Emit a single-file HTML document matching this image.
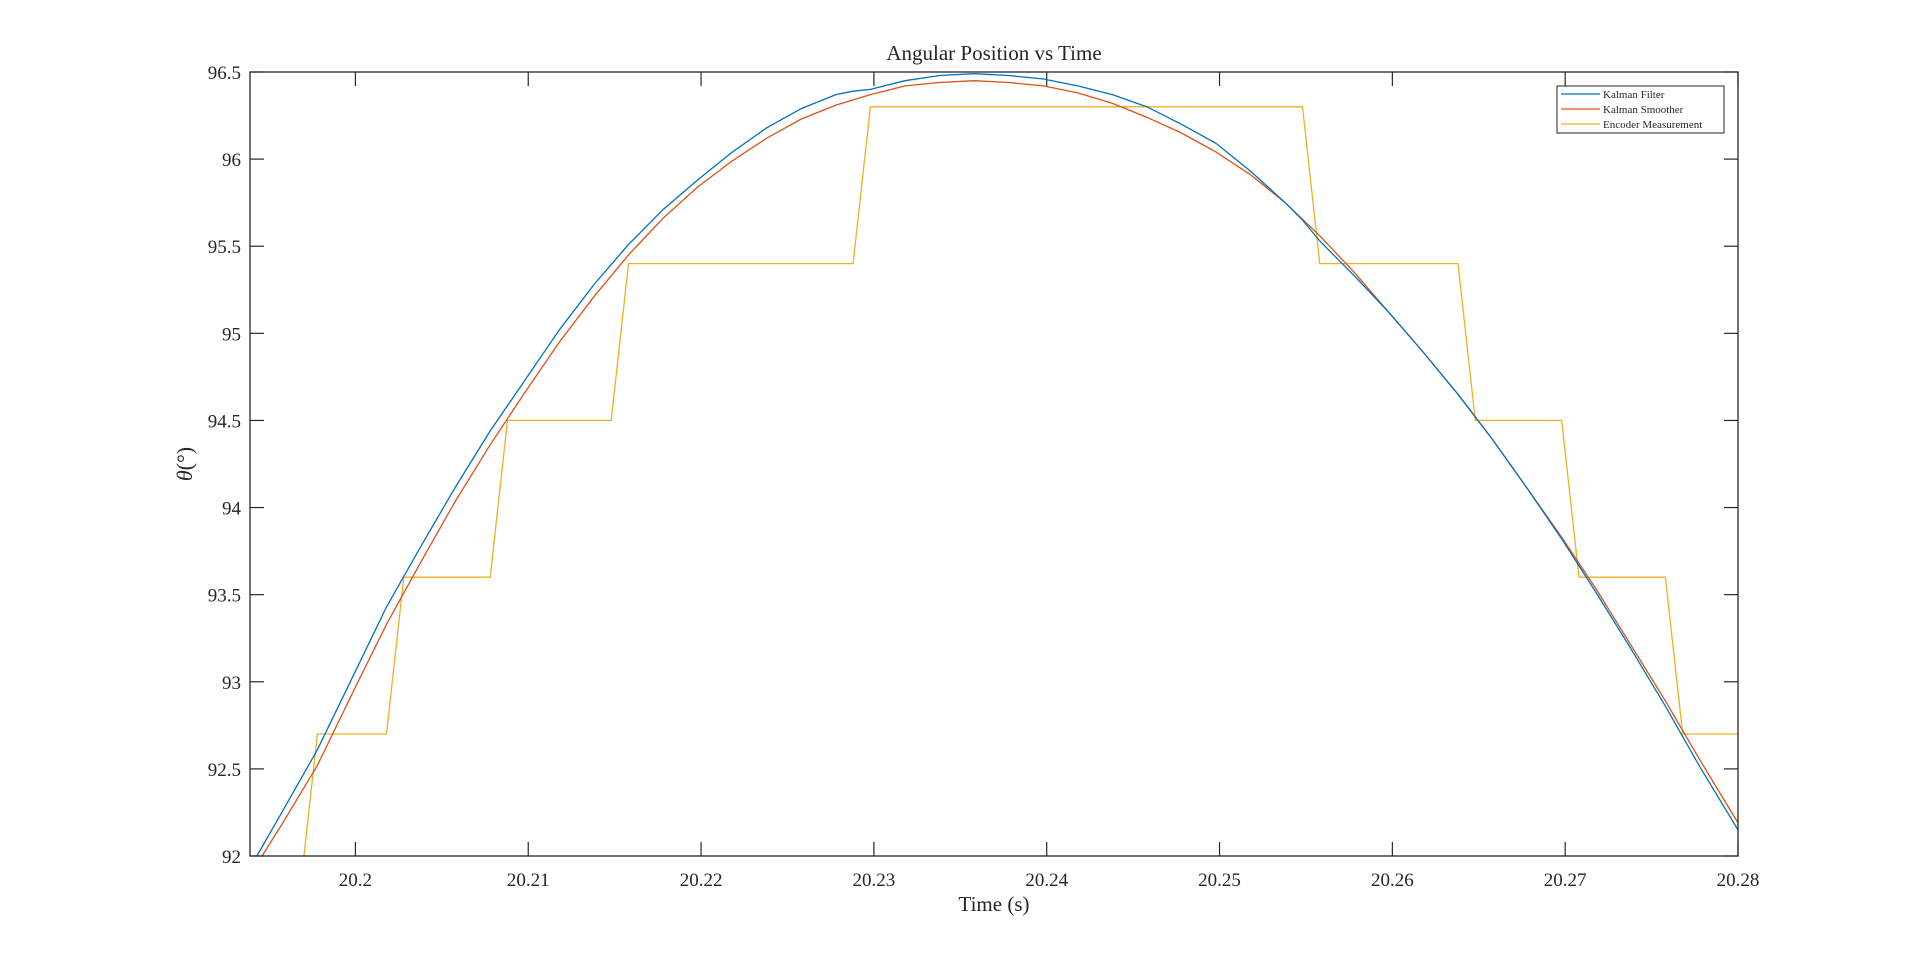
<!DOCTYPE html>
<html><head><meta charset="utf-8"><style>
body{margin:0;background:#fff;width:1920px;height:963px;overflow:hidden}
text{font-family:"Liberation Serif",serif;fill:#262626}
</style></head><body>
<svg id="chart" width="1920" height="963" xmlns="http://www.w3.org/2000/svg">
<rect width="1920" height="963" fill="#fff"/>
<defs><clipPath id="clip"><rect x="250" y="72" width="1488" height="784"/></clipPath></defs>
<g id="ticks"></g>
<g id="series" clip-path="url(#clip)"></g>
<rect x="250" y="72" width="1488" height="784" fill="none" stroke="#262626" stroke-width="1.3"/>
<text x="994" y="60" font-size="21" text-anchor="middle">Angular Position vs Time</text>
<text x="994" y="911" font-size="21" text-anchor="middle">Time (s)</text>
<text transform="translate(192,464) rotate(-90)" font-size="22" text-anchor="middle"><tspan font-style="italic">θ</tspan>(°)</text>
<g>
<rect x="1557" y="86" width="167" height="47" fill="#fff" stroke="#262626" stroke-width="1"/>
<line x1="1561" y1="94" x2="1600" y2="94" stroke="#0072BD" stroke-width="1.2"/>
<text x="1603" y="98" font-size="11">Kalman Filter</text>
<line x1="1561" y1="109" x2="1600" y2="109" stroke="#D95319" stroke-width="1.2"/>
<text x="1603" y="113" font-size="11">Kalman Smoother</text>
<line x1="1561" y1="124" x2="1600" y2="124" stroke="#EDB120" stroke-width="1.2"/>
<text x="1603" y="128" font-size="11">Encoder Measurement</text>
</g>
</svg>
<script>
const xTicks=[20.2,20.21,20.22,20.23,20.24,20.25,20.26,20.27,20.28];
const xTickLabels=["20.2","20.21","20.22","20.23","20.24","20.25","20.26","20.27","20.28"];
const yTicks=[92,92.5,93,93.5,94,94.5,95,95.5,96,96.5];
const yTickLabels=["92","92.5","93","93.5","94","94.5","95","95.5","96","96.5"];
const filterT=[20.1943,20.1958,20.1978,20.1998,20.2018,20.2038,20.2058,20.2078,20.2098,20.2118,20.2138,20.2158,20.2178,20.2198,20.2218,20.2238,20.2258,20.2278,20.2288,20.2298,20.2318,20.2338,20.2358,20.2378,20.2398,20.2418,20.2438,20.2458,20.2478,20.2498,20.2518,20.2538,20.2548,20.2558,20.2578,20.2598,20.2618,20.2638,20.2658,20.2678,20.2698,20.2718,20.2738,20.2758,20.2778,20.2800];
const filterV=[92.0,92.26,92.61,93.02,93.43,93.78,94.12,94.44,94.73,95.02,95.28,95.51,95.71,95.88,96.04,96.18,96.29,96.37,96.39,96.40,96.45,96.48,96.49,96.48,96.46,96.42,96.37,96.30,96.20,96.09,95.93,95.75,95.65,95.53,95.33,95.12,94.89,94.65,94.39,94.11,93.82,93.51,93.19,92.86,92.51,92.15];
const smoothT=[20.1946,20.1958,20.1978,20.1998,20.2018,20.2038,20.2058,20.2078,20.2098,20.2118,20.2138,20.2158,20.2178,20.2198,20.2218,20.2238,20.2258,20.2278,20.2298,20.2318,20.2338,20.2358,20.2378,20.2398,20.2418,20.2438,20.2458,20.2478,20.2498,20.2518,20.2538,20.2558,20.2578,20.2598,20.2618,20.2638,20.2658,20.2678,20.2698,20.2718,20.2738,20.2758,20.2778,20.2800];
const smoothV=[92.0,92.19,92.52,92.93,93.33,93.69,94.04,94.36,94.66,94.95,95.21,95.45,95.66,95.84,95.99,96.12,96.23,96.31,96.37,96.42,96.44,96.45,96.44,96.42,96.38,96.32,96.24,96.15,96.04,95.91,95.75,95.56,95.35,95.12,94.89,94.65,94.39,94.11,93.83,93.53,93.21,92.89,92.55,92.19];
const encT=[20.1968,20.1978,20.2018,20.2028,20.2078,20.2088,20.2148,20.2158,20.2288,20.2298,20.2548,20.2558,20.2638,20.2648,20.2698,20.2708,20.2758,20.2768,20.2800];
const encV=[91.8,92.7,92.7,93.6,93.6,94.5,94.5,95.4,95.4,96.3,96.3,95.4,95.4,94.5,94.5,93.6,93.6,92.7,92.7];
const X0=250,X1=1738,Y0=856,Y1=72,XMIN=20.1939,XMAX=20.28,YMIN=92,YMAX=96.5;
const xs=t=>X0+(t-XMIN)/(XMAX-XMIN)*(X1-X0);
const ys=v=>Y0-(v-YMIN)/(YMAX-YMIN)*(Y0-Y1);
const NS="http://www.w3.org/2000/svg";
const tg=document.getElementById('ticks');
function mk(tag,attrs,parent){const e=document.createElementNS(NS,tag);for(const k in attrs)e.setAttribute(k,attrs[k]);parent.appendChild(e);return e;}
xTicks.forEach((t,i)=>{const x=xs(t);
 const a=mk('line',{x1:x,x2:x,y1:Y0,y2:Y0-14,stroke:'#262626','stroke-width':1.2},tg);
 
 
 mk('line',{x1:x,x2:x,y1:Y1,y2:Y1+14,stroke:'#262626','stroke-width':1.2},tg);
 const l=mk('text',{x:x,y:Y0+30,'font-size':19,'text-anchor':'middle'},tg);l.textContent=xTickLabels[i];
 
 });
yTicks.forEach((v,i)=>{const y=ys(v);
 mk('line',{x1:X0,x2:X0+14,y1:y,y2:y,stroke:'#262626','stroke-width':1.2},tg);
 mk('line',{x1:X1,x2:X1-14,y1:y,y2:y,stroke:'#262626','stroke-width':1.2},tg);
 const l=mk('text',{x:X0-9,y:y+7,'font-size':19,'text-anchor':'end'},tg);l.textContent=yTickLabels[i];
 
 });
const sg=document.getElementById('series');
function line(T,V,color,name){const p=T.map((t,i)=>xs(t).toFixed(1)+','+ys(V[i]).toFixed(1)).join(' ');
 const e=mk('polyline',{points:p,fill:'none',stroke:color,'stroke-width':1.3},sg);
 
 }
line(encT,encV,'#EDB120','encoder-measurement-line');
line(smoothT,smoothV,'#D95319','kalman-smoother-line');
line(filterT,filterV,'#0072BD','kalman-filter-line');
</script>
</body></html>
